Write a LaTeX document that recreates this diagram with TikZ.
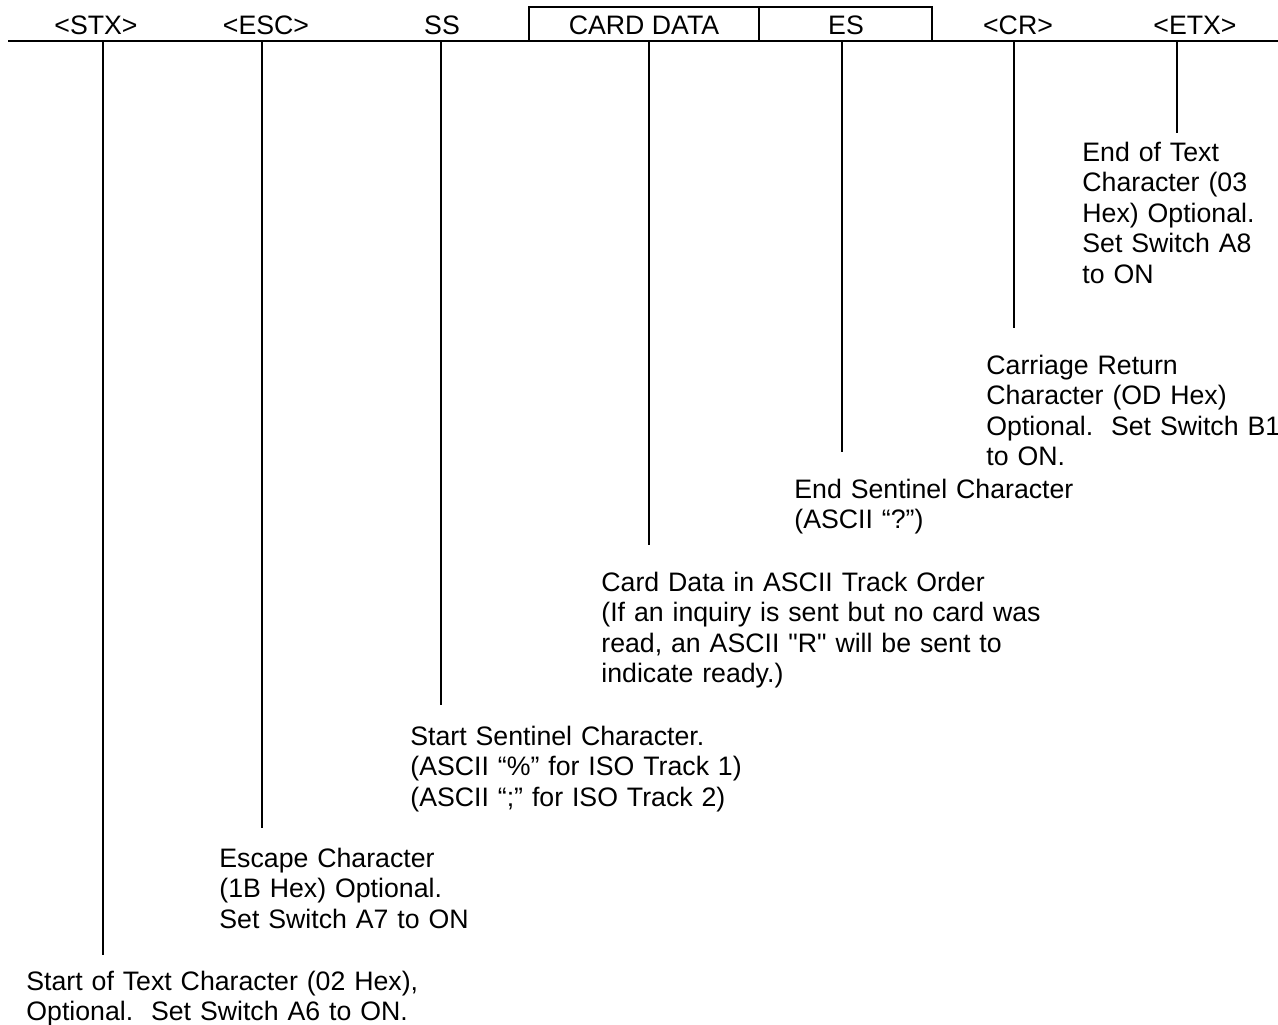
\documentclass[tikz,border=0pt]{standalone}
\usepackage{fontspec}
\setmainfont{Liberation Sans}
\newfontfamily\lsans{Liberation Sans}
\begin{document}
\begin{tikzpicture}[x=0.5pt,y=-0.5pt,
  lbl/.style={font=\lsans\fontsize{13.35pt}{15.25pt}\selectfont, inner sep=0pt, anchor=base},
  desc/.style={font=\lsans\fontsize{13.35pt}{15.25pt}\selectfont, inner sep=0pt, anchor=base west, text width=300pt, align=left},
  ln/.style={line width=1pt, line cap=rect}]
\useasboundingbox (0,0) rectangle (1278,1024);
% main line and box
\coordinate (ml) at (8,41);
\coordinate (mr) at (1278,41);
\draw[line width=1pt] (ml) -- (mr);
\coordinate (bl) at (529,41);
\coordinate (bm) at (759,41);
\coordinate (br) at (932,41);
\draw[ln] (bl) -- (529,7) -- (932,7) -- (br);
\draw[ln] (bm) -- (759,7);
% header labels
\node[lbl] (hstx) at (96,34) {<STX>};
\node[lbl] (hesc) at (266,34) {<ESC>};
\node[lbl] (hss) at (442,34) {SS};
\node[lbl] (hcd) at (644,34) {CARD DATA};
\node[lbl] (hes) at (846,34) {ES};
\node[lbl] (hcr) at (1018,34) {<CR>};
\node[lbl] (hetx) at (1195,34) {<ETX>};
% descriptions
\node[desc] (dstx) at (26,990) {Start of Text Character (02 Hex),\\Optional.\ \ Set Switch A6 to ON.};
\node[desc] (desc) at (219,867) {Escape Character\\(1B Hex) Optional.\\Set Switch A7 to ON};
\node[desc] (dss) at (410,745) {Start Sentinel Character.\\(ASCII “\%” for ISO Track 1)\\(ASCII “;” for ISO Track 2)};
\node[desc] (dcd) at (601,591) {Card Data in ASCII Track Order\\(If an inquiry is sent but no card was\\read, an ASCII "R" will be sent to\\indicate ready.)};
\node[desc] (des) at (794,498) {End Sentinel Character\\(ASCII “?”)};
\node[desc] (dcr) at (986,374) {Carriage Return\\Character (OD Hex)\\Optional.\ \ Set Switch B1\\to ON.};
\node[desc] (detx) at (1082,161) {End of Text\\Character (03\\Hex) Optional.\\Set Switch A8\\to ON};
% connectors
\coordinate (t1) at (103,41);  \coordinate (e1) at (103,955);
\coordinate (t2) at (262,41);  \coordinate (e2) at (262,828);
\coordinate (t3) at (441,41);  \coordinate (e3) at (441,705);
\coordinate (t4) at (649,41);  \coordinate (e4) at (649,545);
\coordinate (t5) at (842,41);  \coordinate (e5) at (842,452);
\coordinate (t6) at (1014,41); \coordinate (e6) at (1014,328);
\coordinate (t7) at (1177,41); \coordinate (e7) at (1177,133);
\foreach \i in {1,...,7} { \draw[line width=1pt] (t\i) -- (e\i); }
\end{tikzpicture}
\end{document}
